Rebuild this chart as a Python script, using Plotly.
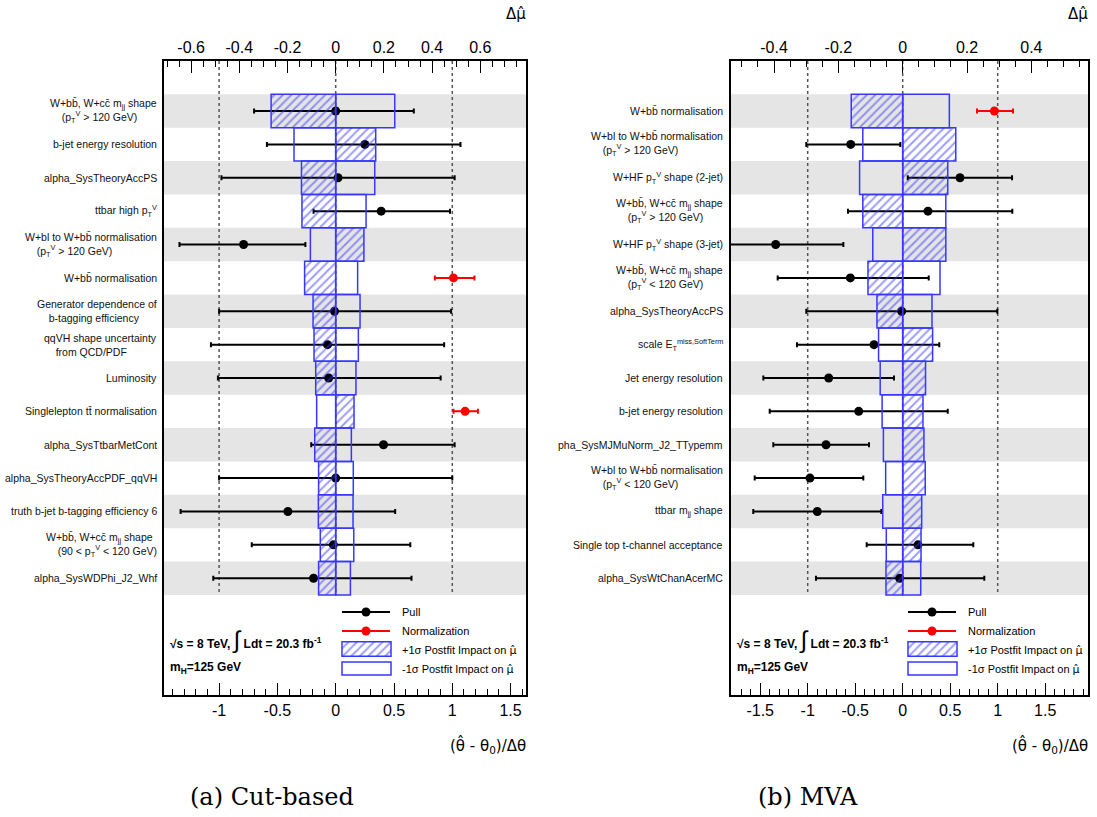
import numpy as np
import plotly.graph_objects as go

W, H = 1097, 817
def PX(x): return x / W
def PY(y): return 1 - y / H

B = "b\u0304"; C = "c\u0304"; T = "t\u0304"
PTV = "p<sub>T</sub><sup>V</sup>"
IND = "\u00a0" * 4
MUHAT = "<span style='font-family:DejaVu Sans'>\u03bc\u0302</span>"

# ---------------- data: (a) Cut-based ----------------
cut_labels = [
    f"W+b{B}, W+c{C} m<sub>jj</sub> shape<br>{IND}({PTV} &gt; 120 GeV)",
    "b-jet energy resolution",
    "alpha_SysTheoryAccPS",
    f"ttbar high {PTV}",
    f"W+bl to W+b{B} normalisation<br>{IND}({PTV} &gt; 120 GeV)",
    f"W+b{B} normalisation",
    f"Generator dependence of<br>{IND}b-tagging efficiency",
    f"qqVH shape uncertainty<br>{IND}from QCD/PDF",
    "Luminosity",
    f"Singlelepton t{T} normalisation",
    "alpha_SysTtbarMetCont",
    "alpha_SysTheoryAccPDF_qqVH",
    "truth b-jet b-tagging efficiency 6",
    f"W+b{B}, W+c{C} m<sub>jj</sub> shape<br>{IND}(90 &lt; {PTV} &lt; 120 GeV)",
    "alpha_SysWDPhi_J2_Whf",
]
cut_pull = [0.00, 0.25, 0.02, 0.39, -0.79, 1.01, -0.01, -0.07, -0.06, 1.11, 0.41, 0.00, -0.41, -0.02, -0.19]
cut_lo = [-0.70, -0.59, -0.98, -0.19, -1.34, 0.85, -1.00, -1.07, -1.01, 1.01, -0.21, -1.00, -1.33, -0.72, -1.05]
cut_hi = [0.67, 1.07, 1.02, 0.98, -0.26, 1.19, 0.99, 0.93, 0.90, 1.22, 1.02, 1.00, 0.51, 0.64, 0.65]
cut_norm = [False, False, False, False, False, True, False, False, False, True, False, False, False, False, False]
cut_imp_plus = [-0.268, 0.166, -0.142, -0.140, 0.117, -0.129, -0.094, -0.090, -0.083, 0.076, -0.087, -0.071, -0.072, -0.064, -0.071]
cut_imp_minus = [0.245, -0.173, 0.162, 0.126, -0.105, 0.091, 0.101, 0.094, 0.084, -0.079, 0.065, 0.073, 0.072, 0.075, 0.061]
cut_bot_ticks = [-1, -0.5, 0, 0.5, 1, 1.5]
cut_bot_text = ["-1", "-0.5", "0", "0.5", "1", "1.5"]
cut_top_ticks = [-0.6, -0.4, -0.2, 0, 0.2, 0.4, 0.6]
cut_top_text = ["-0.6", "-0.4", "-0.2", "0", "0.2", "0.4", "0.6"]

# ---------------- data: (b) MVA ----------------
mva_labels = [
    f"W+b{B} normalisation",
    f"W+bl to W+b{B} normalisation<br>{IND}({PTV} &gt; 120 GeV)",
    f"W+HF {PTV} shape (2-jet)",
    f"W+b{B}, W+c{C} m<sub>jj</sub> shape<br>{IND}({PTV} &gt; 120 GeV)",
    f"W+HF {PTV} shape (3-jet)",
    f"W+b{B}, W+c{C} m<sub>jj</sub> shape<br>{IND}({PTV} &lt; 120 GeV)",
    "alpha_SysTheoryAccPS",
    "scale E<sub>T</sub><sup>miss,SoftTerm</sup>",
    "Jet energy resolution",
    "b-jet energy resolution",
    "pha_SysMJMuNorm_J2_TTypemm",
    f"W+bl to W+b{B} normalisation<br>{IND}({PTV} &lt; 120 GeV)",
    "ttbar m<sub>jj</sub> shape",
    "Single top t-channel acceptance",
    "alpha_SysWtChanAcerMC",
]
mva_pull = [0.965, -0.547, 0.603, 0.266, -1.337, -0.551, -0.011, -0.302, -0.779, -0.463, -0.807, -0.976, -0.899, 0.161, -0.032]
mva_lo = [0.782, -1.015, 0.053, -0.576, -2.3, -1.316, -1.015, -1.113, -1.467, -1.40, -1.362, -1.558, -1.573, -0.379, -0.913]
mva_hi = [1.161, -0.025, 1.151, 1.154, -0.625, 0.274, 0.996, 0.385, -0.092, 0.474, -0.355, -0.415, -0.225, 0.743, 0.859]
mva_norm = [True] + [False] * 14
mva_imp_plus = [-0.160, 0.165, 0.140, -0.124, 0.134, -0.108, -0.080, 0.093, 0.071, 0.063, 0.066, 0.070, 0.059, 0.057, -0.052]
mva_imp_minus = [0.145, -0.124, -0.134, 0.134, -0.093, 0.116, 0.091, -0.075, -0.070, -0.064, -0.060, -0.053, -0.062, -0.051, 0.056]
mva_bot_ticks = [-1.5, -1, -0.5, 0, 0.5, 1, 1.5]
mva_bot_text = ["-1.5", "-1", "-0.5", "0", "0.5", "1", "1.5"]
mva_top_ticks = [-0.4, -0.2, 0, 0.2, 0.4]
mva_top_text = ["-0.4", "-0.2", "0", "0.2", "0.4"]

BLUE = "rgb(55,55,255)"
FONT = "Liberation Sans"
FT, FB = 61, 695   # frame top / bottom (px)
HATCH = dict(shape="/", fgcolor=BLUE, bgcolor="rgba(0,0,0,0)", size=6, solidity=0.32, fillmode="overlay")

fig = go.Figure()

panels = [
    dict(sfx="", sfx_top="3", leg="5", fx0=164, fx1=526, z=335.7, ub=116.6, ut=241.0, lab_r=159,
         labels=cut_labels, pull=cut_pull, lo=cut_lo, hi=cut_hi, norm=cut_norm,
         ip=cut_imp_plus, im=cut_imp_minus, bt=cut_bot_ticks, btt=cut_bot_text,
         tt=cut_top_ticks, ttt=cut_top_text, lx=342, txt_x=168, cap="(a) Cut-based", capx=272),
    dict(sfx="2", sfx_top="4", leg="6", fx0=731, fx1=1088, z=902.7, ub=95.0, ut=321.7, lab_r=725,
         labels=mva_labels, pull=mva_pull, lo=mva_lo, hi=mva_hi, norm=mva_norm,
         ip=mva_imp_plus, im=mva_imp_minus, bt=mva_bot_ticks, btt=mva_bot_text,
         tt=mva_top_ticks, ttt=mva_top_text, lx=908, txt_x=735, cap="(b) MVA", capx=808),
]

shapes, annos = [], []
for p in panels:
    n = len(p["labels"])
    yc = [i + 0.5 for i in range(n)]
    xa, ya, xt = "x" + p["sfx"], "y" + p["sfx"], "x" + p["sfx_top"]
    dom = [PX(p["fx0"]), PX(p["fx1"])]
    brange = [(p["fx0"] - p["z"]) / p["ub"], (p["fx1"] - p["z"]) / p["ub"]]
    trange = [(p["fx0"] - p["z"]) / p["ut"], (p["fx1"] - p["z"]) / p["ut"]]

    # impact boxes (top axis)
    fig.add_trace(go.Bar(x=p["im"], y=yc, base=0, orientation="h", width=1,
                         xaxis=xt, yaxis=ya,
                         marker=dict(color="rgba(0,0,0,0)", line=dict(color=BLUE, width=1.5))))
    fig.add_trace(go.Bar(x=p["ip"], y=yc, base=0, orientation="h", width=1,
                         xaxis=xt, yaxis=ya,
                         marker=dict(color="rgba(0,0,0,0)", line=dict(color=BLUE, width=1.5),
                                     pattern=HATCH)))
    # pulls
    for isn, col in [(False, "black"), (True, "red")]:
        idx = [i for i in range(n) if p["norm"][i] == isn]
        xs = [p["pull"][i] for i in idx]
        fig.add_trace(go.Scatter(
            x=xs, y=[yc[i] for i in idx], mode="markers", xaxis=xa, yaxis=ya,
            marker=dict(color=col, size=9),
            error_x=dict(type="data", symmetric=False,
                         array=[p["hi"][i] - p["pull"][i] for i in idx],
                         arrayminus=[p["pull"][i] - p["lo"][i] for i in idx],
                         color=col, thickness=2, width=2.5)))

    # bands and dashed lines
    for i in range(0, n, 2):
        shapes.append(dict(type="rect", xref=xa + " domain", yref=ya, x0=0, x1=1, y0=i, y1=i + 1,
                           fillcolor="#e5e5e5", line=dict(width=0), layer="below"))
    for v in (-1, 0, 1):
        shapes.append(dict(type="line", xref=xa, yref=ya, x0=v, x1=v, y0=-1, y1=n,
                           line=dict(color="#555555", width=1.5, dash="3px,3px"), layer="below"))

    axcommon = dict(showgrid=False, zeroline=False, showline=True, linecolor="black", linewidth=1.5,
                    ticks="inside", ticklen=12, tickwidth=1, tickcolor="black",
                    tickfont=dict(family=FONT, size=16, color="black"))
    fig.layout["xaxis" + p["sfx"]] = dict(domain=dom, range=brange, anchor=ya, side="bottom",
                                          tickmode="array", tickvals=p["bt"], ticktext=p["btt"],
                                          minor=dict(tickmode="array",
                                                     tickvals=list(np.round(np.arange(-3, 3.01, 0.1), 2)),
                                                     ticks="inside", ticklen=6, tickcolor="black"),
                                          **axcommon)
    fig.layout["xaxis" + p["sfx_top"]] = dict(domain=dom, range=trange, anchor=ya, side="top",
                                              overlaying=xa, tickmode="array", tickvals=p["tt"],
                                              ticktext=p["ttt"],
                                              minor=dict(tickmode="array",
                                                         tickvals=list(np.round(np.arange(-1, 1.001, 0.05), 3)),
                                                         ticks="inside", ticklen=6, tickcolor="black"),
                                              **axcommon)
    fig.layout["yaxis" + p["sfx"]] = dict(domain=[PY(FB), PY(FT)], range=[n + 3, -1], anchor=xa,
                                          showticklabels=False, ticks="", showgrid=False, zeroline=False,
                                          showline=True, mirror=True, linecolor="black", linewidth=1.5)

    # row labels
    for i, lab in enumerate(p["labels"]):
        annos.append(dict(text=lab, xref="paper", yref=ya, x=PX(p["lab_r"]), y=yc[i],
                          xanchor="right", yanchor="middle", align="left", showarrow=False,
                          font=dict(family=FONT, size=10.5, color="#111")))

    # axis titles
    annos.append(dict(text="\u0394\u03bc\u0302", xref="paper", yref="paper", x=PX(p["fx1"] + 2), y=PY(14),
                      xanchor="right", yanchor="middle", showarrow=False,
                      font=dict(family="DejaVu Sans", size=15, color="black")))
    annos.append(dict(text="(\u03b8\u0302 - \u03b8<sub>0</sub>)/\u0394\u03b8", xref="paper", yref="paper",
                      x=PX(p["fx1"] + 2), y=PY(745), xanchor="right", yanchor="middle", showarrow=False,
                      font=dict(family="DejaVu Sans", size=15, color="black")))
    annos.append(dict(text=p["cap"], xref="paper", yref="paper", x=PX(p["capx"]), y=PY(797),
                      xanchor="center", yanchor="middle", showarrow=False,
                      font=dict(family="DejaVu Serif", size=24, color="black")))

    # legend
    lx = p["lx"]
    for yy, col, lab in [(612, "black", "Pull"), (631, "red", "Normalization")]:
        shapes.append(dict(type="line", xref="paper", yref="paper", x0=PX(lx), x1=PX(lx + 48),
                           y0=PY(yy), y1=PY(yy), line=dict(color=col, width=2)))
        shapes.append(dict(type="circle", xref="paper", yref="paper", x0=PX(lx + 24 - 4.5),
                           x1=PX(lx + 24 + 4.5), y0=PY(yy + 4.5), y1=PY(yy - 4.5),
                           fillcolor=col, line=dict(color=col, width=0)))
        annos.append(dict(text=lab, xref="paper", yref="paper", x=PX(lx + 58), y=PY(yy),
                          xanchor="left", yanchor="middle", showarrow=False,
                          font=dict(family=FONT, size=11, color="black")))
    # hatched legend box on a tiny axis
    lg = p["leg"]
    fig.add_trace(go.Bar(x=[1], y=[0], base=0, orientation="h", width=1,
                         xaxis="x" + lg, yaxis="y" + lg,
                         marker=dict(color="rgba(0,0,0,0)", line=dict(color=BLUE, width=1.5),
                                     pattern=HATCH)))
    fig.layout["xaxis" + lg] = dict(domain=[PX(lx - 1), PX(lx + 50)], range=[-0.02, 1.02],
                                    anchor="y" + lg, visible=False, fixedrange=True)
    fig.layout["yaxis" + lg] = dict(domain=[PY(657), PY(641)], range=[-0.56, 0.56],
                                    anchor="x" + lg, visible=False, fixedrange=True)
    shapes.append(dict(type="rect", xref="paper", yref="paper", x0=PX(lx), x1=PX(lx + 49),
                       y0=PY(675), y1=PY(662), line=dict(color=BLUE, width=1.5)))
    annos.append(dict(text="+1\u03c3 Postfit Impact on " + MUHAT, xref="paper", yref="paper",
                      x=PX(lx + 58), y=PY(650), xanchor="left", yanchor="middle", showarrow=False,
                      font=dict(family=FONT, size=11, color="black")))
    annos.append(dict(text="-1\u03c3 Postfit Impact on " + MUHAT, xref="paper", yref="paper",
                      x=PX(lx + 58), y=PY(669), xanchor="left", yanchor="middle", showarrow=False,
                      font=dict(family=FONT, size=11, color="black")))
    annos.append(dict(text="<b>\u221as = 8 TeV,</b> <span style='font-size:24px'>\u222b</span> "
                           "<b>Ldt = 20.3 fb<sup>-1</sup></b>",
                      xref="paper", yref="paper", x=PX(p["txt_x"]), y=PY(640),
                      xanchor="left", yanchor="middle", showarrow=False,
                      font=dict(family=FONT, size=12, color="black")))
    annos.append(dict(text="<b>m<sub>H</sub>=125 GeV</b>", xref="paper", yref="paper",
                      x=PX(p["txt_x"]), y=PY(668), xanchor="left", yanchor="middle", showarrow=False,
                      font=dict(family=FONT, size=12, color="black")))

fig.update_layout(width=W, height=H, margin=dict(l=0, r=0, t=0, b=0),
                  paper_bgcolor="white", plot_bgcolor="white", showlegend=False,
                  barmode="overlay", shapes=shapes, annotations=annos)
fig.write_html("out.html", config={"displayModeBar": False},
               post_script="document.body.style.margin='0px';")
